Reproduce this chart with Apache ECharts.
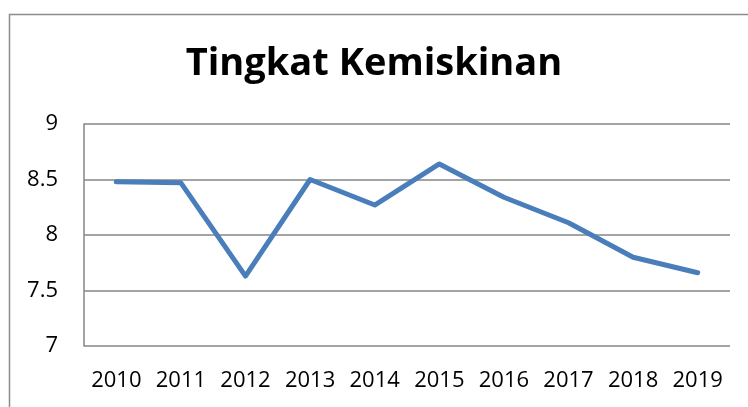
<!DOCTYPE html>
<html>
    <head>
        <meta charset="utf-8">
        <script src="https://cdn.jsdelivr.net/npm/echarts@6/dist/echarts.min.js"></script>
        <style>
            body {
                margin: 0;
                background: #fff;
            }
            #main {
                width: 748px;
                height: 407px;
            }
        </style>
    </head>
    <body>
        <div id="main"></div>

        <script>
        // chart data
        var years = ['2010', '2011', '2012', '2013', '2014', '2015', '2016', '2017', '2018', '2019'];
        var povertyRate = [8.48, 8.47, 7.63, 8.5, 8.27, 8.64, 8.34, 8.11, 7.8, 7.66];
        var titleText = 'Tingkat Kemiskinan';

        var chart = echarts.init(document.getElementById('main'));

        chart.setOption({
            animation: false,
            textStyle: {
                fontFamily: 'Open Sans'
            },
            graphic: [{
                type: 'rect',
                left: 7,
                top: 12,
                shape: { width: 800, height: 500 },
                style: { fill: 'none', stroke: '#8c8c8c', lineWidth: 1.5 }
            }],
            title: {
                text: titleText,
                left: 'center',
                top: 40,
                textStyle: {
                    fontFamily: 'Open Sans',
                    fontWeight: 'bold',
                    fontSize: 38,
                    color: '#000'
                }
            },
            grid: {
                left: 84,
                right: 18,
                top: 124,
                bottom: 61
            },
            xAxis: {
                type: 'category',
                data: years,
                boundaryGap: true,
                axisLine: { show: false },
                axisTick: { show: false },
                axisLabel: {
                    color: '#000',
                    fontSize: 22,
                    margin: 24,
                    interval: 0
                }
            },
            yAxis: {
                type: 'value',
                min: 7,
                max: 9,
                interval: 0.5,
                axisLine: {
                    show: true,
                    lineStyle: { color: '#868686', width: 1.5 }
                },
                axisTick: { show: false },
                axisLabel: {
                    color: '#000',
                    fontSize: 22,
                    margin: 26
                },
                splitLine: {
                    lineStyle: { color: '#868686', width: 1.5 }
                }
            },
            series: [{
                type: 'line',
                data: povertyRate,
                symbol: 'none',
                lineStyle: {
                    color: '#4a7ebb',
                    width: 5,
                    cap: 'round',
                    join: 'round'
                }
            }]
        });
        </script>
    </body>
</html>
